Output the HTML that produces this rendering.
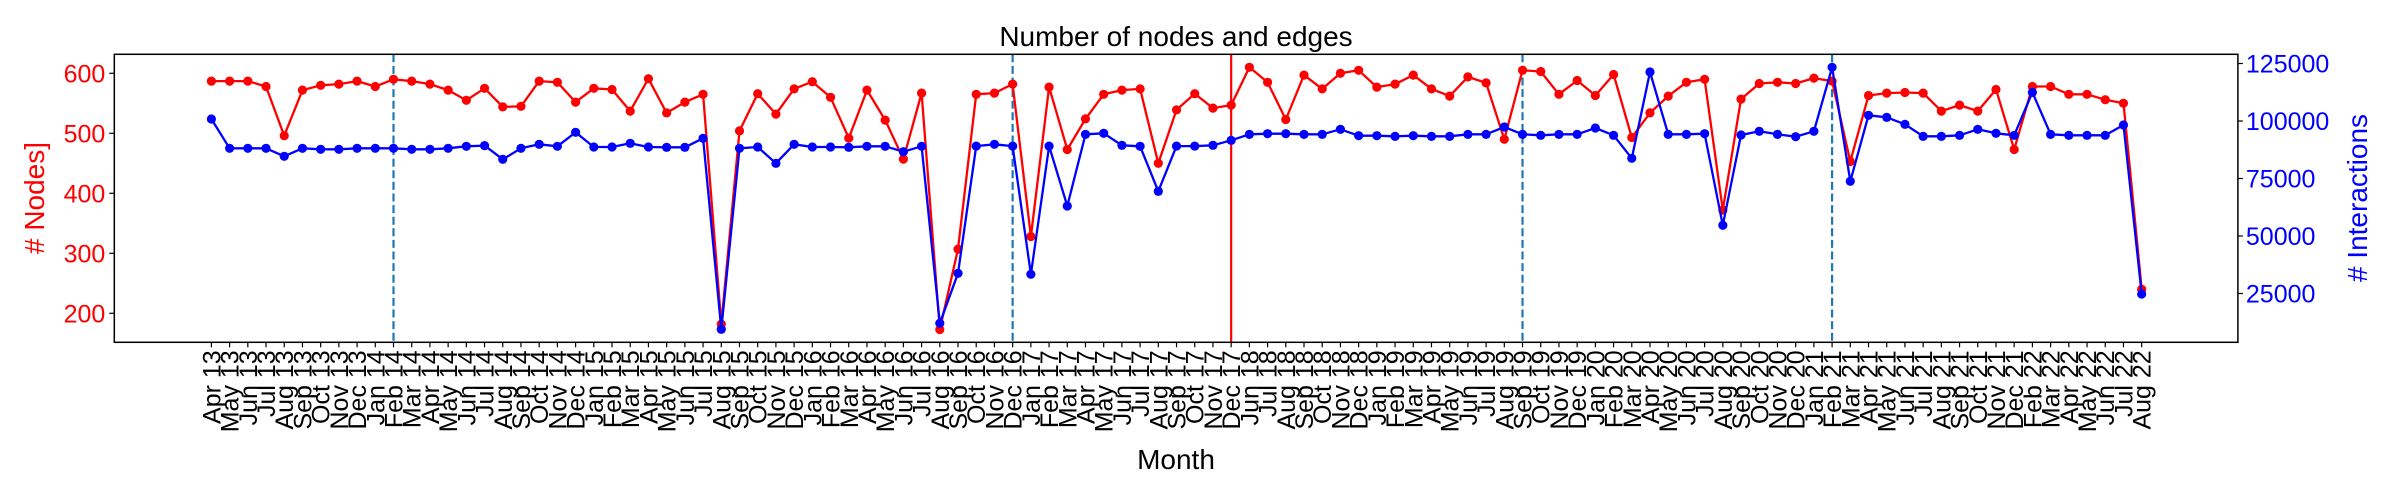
<!DOCTYPE html>
<html><head><meta charset="utf-8"><style>
html,body{margin:0;padding:0;background:#fff;}
svg{display:block;font-family:"Liberation Sans","DejaVu Sans",sans-serif;}
</style></head><body>
<svg id="chart" width="2400" height="500" viewBox="0 0 2400 500" xmlns="http://www.w3.org/2000/svg">
<rect width="2400" height="500" fill="#fff"/>
<text x="1176" y="46" font-size="28" text-anchor="middle" fill="#000">Number of nodes and edges</text>
<text x="1176" y="469" font-size="28" text-anchor="middle" fill="#000">Month</text>
<text transform="translate(44,198) rotate(-90)" font-size="28" text-anchor="middle" fill="#ff0000"># Nodes]</text>
<text transform="translate(2367,198) rotate(-90)" font-size="28" text-anchor="middle" fill="#0000ff"># Interactions</text>
<g id="vlines"></g>
<g id="series"></g>
<g id="axes"></g>
</svg>
<script>
const labels = [
"Apr 13","May 13","Jun 13","Jul 13","Aug 13","Sep 13","Oct 13","Nov 13","Dec 13",
"Jan 14","Feb 14","Mar 14","Apr 14","May 14","Jun 14","Jul 14","Aug 14","Sep 14","Oct 14","Nov 14","Dec 14",
"Jan 15","Feb 15","Mar 15","Apr 15","May 15","Jun 15","Jul 15","Aug 15","Sep 15","Oct 15","Nov 15","Dec 15",
"Jan 16","Feb 16","Mar 16","Apr 16","May 16","Jun 16","Jul 16","Aug 16","Sep 16","Oct 16","Nov 16","Dec 16",
"Jan 17","Feb 17","Mar 17","Apr 17","May 17","Jun 17","Jul 17","Aug 17","Sep 17","Oct 17","Nov 17","Dec 17",
"Jun 18","Jul 18","Aug 18","Sep 18","Oct 18","Nov 18","Dec 18",
"Jan 19","Feb 19","Mar 19","Apr 19","May 19","Jun 19","Jul 19","Aug 19","Sep 19","Oct 19","Nov 19","Dec 19",
"Jan 20","Feb 20","Mar 20","Apr 20","May 20","Jun 20","Jul 20","Aug 20","Sep 20","Oct 20","Nov 20","Dec 20",
"Jan 21","Feb 21","Mar 21","Apr 21","May 21","Jun 21","Jul 21","Aug 21","Sep 21","Oct 21","Nov 21","Dec 21",
"Feb 22","Mar 22","Apr 22","May 22","Jun 22","Jul 22","Aug 22"];
const nodes = [587,587,587,578,496,572,580,582,587,578,590,587,582,572,555,575,544,545,587,585,552,575,573,537,591,
534,552,565,182,504,566,532,574,586,560,492,572,522,457,567,173,307,565,567,582,328,577,473,524,565,572,574,450,539,566,
542,547,610,585,523,597,574,600,605,577,582,597,574,562,594,584,490,605,603,565,588,563,598,493,534,562,585,590,372,557,
583,585,583,592,587,453,563,567,568,567,537,547,537,573,473,578,578,565,565,556,550,240];
const interactions = [100870,88130,88130,88130,84650,88130,87700,87700,88130,88130,88130,87700,87700,88130,89000,89300,83350,88130,89870,89000,95090,88700,88700,90300,88700,
88560,88560,92480,9430,88130,88700,81600,89870,88700,88700,88560,89000,89000,86650,89000,12040,33780,89100,89870,89100,33350,89100,63040,94200,94650,89430,89000,69430,89100,89100,
89430,91600,94200,94490,94490,94200,94200,96380,93620,93620,93330,93620,93330,93330,94200,94200,97390,94200,93770,94200,94200,96960,93770,83780,121300,94200,94200,94490,54650,93910,
95520,94200,93190,95520,123350,73780,102480,101600,98550,93330,93330,93770,96380,94650,93770,112460,94200,93770,93770,93770,98260,24780];
const leftTicks = [200,300,400,500,600];
const rightTicks = [25000,50000,75000,100000,125000];
const dashedLineIdx = [10,44,72,89];
const redLineIdx = [56];

const NS = "http://www.w3.org/2000/svg";
const AX = {l:114.3, r:2237.9, t:54.3, b:342.3};
const X0 = 211.4, DX = 18.21;
function xPos(i){ return X0 + i*DX; }
function yLeft(v){ return 73.3 + (600 - v)*0.6; }
function yRight(v){ return 121 - (v - 100000)*0.0023; }
function mk(tag, attrs, parent){ const e=document.createElementNS(NS,tag); for(const k in attrs) e.setAttribute(k,attrs[k]); parent.appendChild(e); return e; }

const vl = document.getElementById('vlines');
dashedLineIdx.forEach(i=>{
  const l = mk('line',{x1:xPos(i),x2:xPos(i),y1:AX.t,y2:AX.b,stroke:'#1f77b4','stroke-width':2.2,'stroke-dasharray':'8,3.6'},vl);
  
  
});
redLineIdx.forEach(i=>{
  const l = mk('line',{x1:xPos(i),x2:xPos(i),y1:AX.t,y2:AX.b,stroke:'#ff0000','stroke-width':2.2},vl);
  
  
});

const sg = document.getElementById('series');
function series(vals, yf, color, name){
  const pts = vals.map((v,i)=>xPos(i).toFixed(1)+','+yf(v).toFixed(1)).join(' ');
  const pl = mk('polyline',{points:pts,fill:'none',stroke:color,'stroke-width':2.3,'stroke-linejoin':'round'},sg);
  
  
  vals.forEach((v,i)=>{
    const c = mk('circle',{cx:xPos(i),cy:yf(v),r:4.6,fill:color},sg);
    
    
  });
}
series(nodes, yLeft, '#ff0000', 'nodes');
series(interactions, yRight, '#0000ff', 'interactions');

const ag = document.getElementById('axes');
const frame = mk('rect',{x:AX.l,y:AX.t,width:AX.r-AX.l,height:AX.b-AX.t,fill:'none',stroke:'#000','stroke-width':1.5},ag);


leftTicks.forEach(v=>{
  const y=yLeft(v);
  mk('line',{x1:AX.l-5,x2:AX.l,y1:y,y2:y,stroke:'#000','stroke-width':1.2},ag);
  const t=mk('text',{x:AX.l-9,y:y+9,'font-size':25,'text-anchor':'end',fill:'#ff0000'},ag);
  t.textContent=v;
  
  
});
rightTicks.forEach(v=>{
  const y=yRight(v);
  mk('line',{x1:AX.r,x2:AX.r+5,y1:y,y2:y,stroke:'#000','stroke-width':1.2},ag);
  const t=mk('text',{x:AX.r+8,y:y+9,'font-size':25,'text-anchor':'start',fill:'#0000ff'},ag);
  t.textContent=v;
  
  
});
labels.forEach((s,i)=>{
  const x=xPos(i);
  mk('line',{x1:x,x2:x,y1:AX.b,y2:AX.b+5,stroke:'#000','stroke-width':1.2},ag);
  const t=mk('text',{transform:'translate('+(x+9)+','+(AX.b+8)+') rotate(-90)','font-size':25,'text-anchor':'end',fill:'#000'},ag);
  t.textContent=s;
  
  
});
</script>
</body></html>
